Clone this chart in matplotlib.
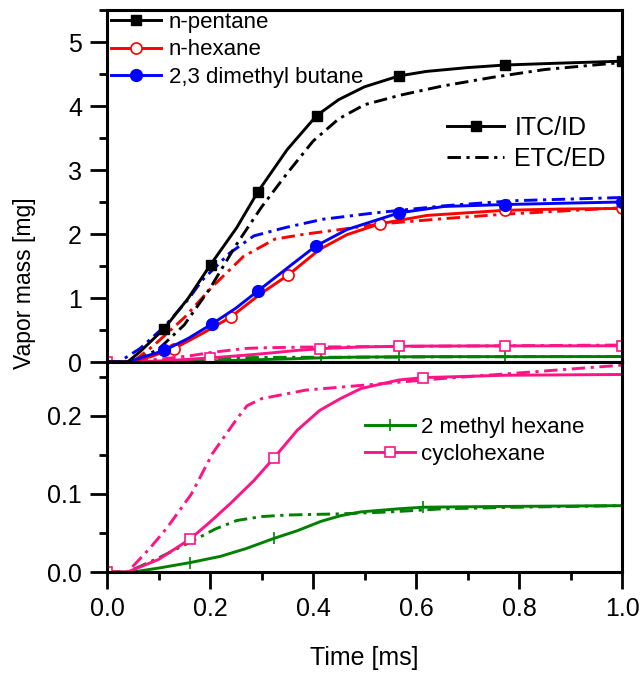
import numpy as np
import matplotlib
matplotlib.use("Agg")
import matplotlib.pyplot as plt
from matplotlib.lines import Line2D
from matplotlib.ticker import MultipleLocator, FormatStrFormatter

plt.rcParams['font.family'] = ['Liberation Sans', 'DejaVu Sans']

# ---- vapor mass histories [mg] vs time [ms] ----
# ITC/ID (solid) and ETC/ED (dash-dot) for each fuel component
t_pent_itc = [0.0, 0.04, 0.064, 0.111, 0.158, 0.201, 0.252, 0.293, 0.35, 0.407, 0.45, 0.5, 0.567, 0.62, 0.7, 0.772, 0.88, 1.0]
m_pent_itc = [0.0, 0.0, 0.16, 0.52, 1.0, 1.52, 2.10, 2.66, 3.32, 3.85, 4.10, 4.30, 4.47, 4.54, 4.60, 4.64, 4.67, 4.70]
t_pent_etc = [0.0, 0.05, 0.1, 0.15, 0.2, 0.25, 0.3, 0.35, 0.4, 0.45, 0.5, 0.57, 0.65, 0.75, 0.85, 1.0]
m_pent_etc = [0.0, 0.0, 0.2, 0.58, 1.15, 1.82, 2.42, 2.95, 3.45, 3.80, 4.02, 4.17, 4.31, 4.45, 4.57, 4.68]

t_hex_itc = [0.0, 0.04, 0.084, 0.13, 0.185, 0.24, 0.299, 0.352, 0.413, 0.466, 0.53, 0.621, 0.772, 0.88, 1.0]
m_hex_itc = [0.0, 0.0, 0.08, 0.21, 0.445, 0.70, 1.07, 1.36, 1.76, 1.99, 2.16, 2.29, 2.37, 2.39, 2.40]
t_hex_etc = [0.0, 0.05, 0.091, 0.151, 0.205, 0.265, 0.326, 0.386, 0.453, 0.534, 0.654, 0.772, 1.0]
m_hex_etc = [0.0, 0.0, 0.26, 0.70, 1.18, 1.65, 1.92, 2.00, 2.07, 2.16, 2.24, 2.31, 2.41]

t_dmb_itc = [0.0, 0.04, 0.111, 0.158, 0.203, 0.25, 0.293, 0.352, 0.405, 0.466, 0.567, 0.654, 0.772, 0.88, 1.0]
m_dmb_itc = [0.0, 0.0, 0.18, 0.37, 0.59, 0.84, 1.11, 1.48, 1.81, 2.07, 2.33, 2.43, 2.46, 2.48, 2.50]
t_dmb_etc = [0.0, 0.023, 0.064, 0.111, 0.158, 0.185, 0.238, 0.285, 0.346, 0.419, 0.52, 0.654, 0.789, 1.0]
m_dmb_etc = [0.0, 0.0, 0.21, 0.55, 0.98, 1.28, 1.70, 1.97, 2.10, 2.23, 2.33, 2.44, 2.52, 2.57]

t_cyc_itc = [0.0, 0.04, 0.1, 0.161, 0.2, 0.24, 0.285, 0.324, 0.37, 0.413, 0.453, 0.493, 0.567, 0.614, 0.772, 1.0]
m_cyc_itc = [0.0, 0.0, 0.016, 0.042, 0.064, 0.088, 0.117, 0.146, 0.182, 0.207, 0.222, 0.235, 0.246, 0.249, 0.252, 0.253]
t_cyc_etc = [0.0, 0.04, 0.084, 0.117, 0.164, 0.205, 0.252, 0.272, 0.3, 0.386, 0.493, 0.654, 0.8, 1.0]
m_cyc_etc = [0.0, 0.0, 0.031, 0.057, 0.1, 0.152, 0.196, 0.213, 0.222, 0.233, 0.239, 0.248, 0.255, 0.265]

t_mhx_itc = [0.0, 0.05, 0.1, 0.161, 0.22, 0.27, 0.324, 0.37, 0.416, 0.453, 0.493, 0.567, 0.614, 0.772, 1.0]
m_mhx_itc = [0.0, 0.0, 0.005, 0.012, 0.02, 0.03, 0.043, 0.053, 0.065, 0.072, 0.077, 0.081, 0.083, 0.084, 0.085]
t_mhx_etc = [0.0, 0.04, 0.1, 0.161, 0.21, 0.252, 0.3, 0.35, 0.453, 0.55, 0.654, 0.8, 1.0]
m_mhx_etc = [0.0, 0.0, 0.018, 0.038, 0.055, 0.066, 0.071, 0.073, 0.0745, 0.077, 0.081, 0.083, 0.085]

# symbol positions (times) along each solid curve
mk_pent = [0.111, 0.201, 0.293, 0.407, 0.567, 0.772, 1.0]
mk_hex = [0.13, 0.24, 0.352, 0.53, 0.772, 1.0]
mk_dmb = [0.111, 0.203, 0.293, 0.405, 0.567, 0.772, 1.0]
mk_cyc_top = [0.0, 0.2, 0.413, 0.567, 0.772, 1.0]
mk_cyc_bot = [0.0, 0.161, 0.324, 0.614]
mk_mhx_top = [0.416, 0.567, 0.772, 1.0]
mk_mhx_bot = [0.161, 0.324, 0.614]

labels_top = ["n-pentane", "n-hexane", "2,3 dimethyl butane"]
labels_bot = ["2 methyl hexane", "cyclohexane"]
labels_model = ["ITC/ID", "ETC/ED"]

C_BLACK, C_RED, C_BLUE = "#000000", "#ff0000", "#0000ff"
C_GREEN, C_PINK = "#008000", "#ff1486"

LW = 2.1
DASHDOT = (0, (4.6, 1.9, 1.1, 1.9))


def idx(t, marks):
    t = np.asarray(t)
    return [int(np.argmin(np.abs(t - m))) for m in marks]


fig = plt.figure(figsize=(6.42, 6.74), dpi=100)
W, H = 642, 674
x0, x1 = 107, 622
ax_top = fig.add_axes([x0 / W, (H - 362) / H, (x1 - x0) / W, (362 - 10) / H])
ax_bot = fig.add_axes([x0 / W, (H - 572) / H, (x1 - x0) / W, (572 - 362) / H], sharex=ax_top)

sq = dict(marker='s', markersize=7.5)
oc = dict(marker='o', markersize=8, markerfacecolor='white')
fc = dict(marker='o', markersize=8.5)
osq = dict(marker='s', markersize=7.5, markerfacecolor='white')
pl = dict(marker='|', markersize=9, markeredgewidth=1.2)

# ---- top panel ----
a = ax_top
a.plot(t_mhx_etc, m_mhx_etc, color=C_GREEN, lw=LW, ls=DASHDOT)
a.plot(t_mhx_itc, m_mhx_itc, color=C_GREEN, lw=LW, markevery=idx(t_mhx_itc, mk_mhx_top), **pl)
a.plot(t_cyc_etc, m_cyc_etc, color=C_PINK, lw=LW, ls=DASHDOT)
a.plot(t_cyc_itc, m_cyc_itc, color=C_PINK, lw=LW, markevery=idx(t_cyc_itc, mk_cyc_top),
       markeredgecolor=C_PINK, markeredgewidth=1.2, **osq)
a.plot(t_hex_etc, m_hex_etc, color=C_RED, lw=LW, ls=DASHDOT)
a.plot(t_dmb_etc, m_dmb_etc, color=C_BLUE, lw=LW, ls=DASHDOT)
a.plot(t_pent_etc, m_pent_etc, color=C_BLACK, lw=LW, ls=DASHDOT)
h_hex, = a.plot(t_hex_itc, m_hex_itc, color=C_RED, lw=LW, markevery=idx(t_hex_itc, mk_hex),
                markeredgecolor=C_RED, markeredgewidth=1.2, **oc)
h_dmb, = a.plot(t_dmb_itc, m_dmb_itc, color=C_BLUE, lw=LW, markevery=idx(t_dmb_itc, mk_dmb), **fc)
h_pent, = a.plot(t_pent_itc, m_pent_itc, color=C_BLACK, lw=LW, markevery=idx(t_pent_itc, mk_pent), **sq)

a.set_xlim(0, 1.0)
a.set_ylim(0, 5.5)
a.yaxis.set_major_locator(MultipleLocator(1))
a.yaxis.set_minor_locator(MultipleLocator(0.5))

leg1 = a.legend([h_pent, h_hex, h_dmb], labels_top, loc='upper left',
                bbox_to_anchor=(0.008, 0.995), frameon=False, fontsize=16,
                handlelength=2.25, handletextpad=0.35, labelspacing=0.3,
                borderpad=0, borderaxespad=0, numpoints=1)
a.add_artist(leg1)
proxy = [Line2D([], [], color=C_BLACK, lw=LW, **sq),
         Line2D([], [], color=C_BLACK, lw=LW, ls=DASHDOT)]
a.legend(proxy, labels_model, loc='upper left', bbox_to_anchor=(0.66, 0.70),
         frameon=False, fontsize=18, handlelength=2.3, handletextpad=0.4,
         labelspacing=0.3, borderpad=0, borderaxespad=0, numpoints=1)

# ---- bottom panel ----
b = ax_bot
b.plot(t_mhx_etc, m_mhx_etc, color=C_GREEN, lw=LW, ls=DASHDOT)
h_mhx, = b.plot(t_mhx_itc, m_mhx_itc, color=C_GREEN, lw=LW,
                markevery=idx(t_mhx_itc, mk_mhx_bot), **pl)
b.plot(t_cyc_etc, m_cyc_etc, color=C_PINK, lw=LW, ls=DASHDOT)
h_cyc, = b.plot(t_cyc_itc, m_cyc_itc, color=C_PINK, lw=LW,
                markevery=idx(t_cyc_itc, mk_cyc_bot),
                markeredgecolor=C_PINK, markeredgewidth=1.2, **osq)
b.set_ylim(0, 0.269)
b.yaxis.set_major_locator(MultipleLocator(0.1))
b.yaxis.set_minor_locator(MultipleLocator(0.05))
b.xaxis.set_major_locator(MultipleLocator(0.2))
b.xaxis.set_minor_locator(MultipleLocator(0.1))
b.yaxis.set_major_formatter(FormatStrFormatter('%.1f'))
b.xaxis.set_major_formatter(FormatStrFormatter('%.1f'))
b.legend([h_mhx, h_cyc], labels_bot, loc='upper left', bbox_to_anchor=(0.5, 0.74),
         frameon=False, fontsize=16, handlelength=2.25, handletextpad=0.3,
         labelspacing=0.3, borderpad=0, borderaxespad=0, numpoints=1)
b.set_xlabel("Time [ms]", fontsize=18, labelpad=18)

for ax in (ax_top, ax_bot):
    for s in ax.spines.values():
        s.set_linewidth(2.2)
    ax.tick_params(which='major', direction='out', length=12, width=2.0,
                   labelsize=18, pad=6, top=False, right=False)
    ax.tick_params(which='minor', direction='out', length=6, width=2.0,
                   top=False, right=False)
ax_top.tick_params(axis='x', which='both', bottom=False, labelbottom=False)

fig.text(25 / W, (H - 283) / H, "Vapor mass [mg]", rotation=90, fontsize=16.5,
         ha='center', va='center')

fig.savefig("out.png", dpi=100)
